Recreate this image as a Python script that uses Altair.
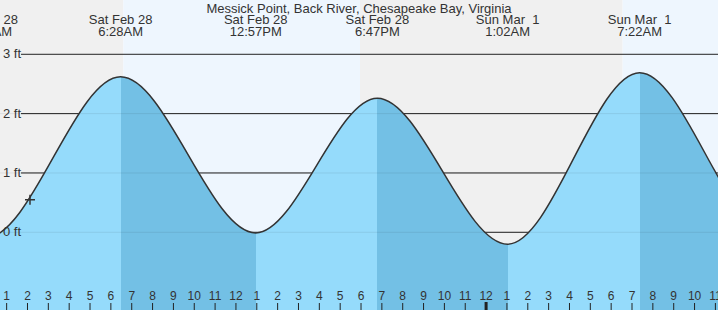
import altair as alt
import pandas as pd

TITLE = "Messick Point, Back River, Chesapeake Bay, Virginia"

# Tide extremes: hours after midnight of Sat Feb 28, height in feet
tide_hours = [-6.2, 0.017, 6.467, 12.95, 18.783, 25.033, 31.367, 37.6, 43.9]
tide_feet = [2.30, -0.09, 2.62, -0.01, 2.26, -0.20, 2.69, 0.00, 2.25]
tide_dates = ["Fri Feb 27", "Sat Feb 28", "Sat Feb 28", "Sat Feb 28", "Sat Feb 28",
              "Sun Mar\u00a0 1", "Sun Mar\u00a0 1", "Sun Mar\u00a0 1", "Sun Mar\u00a0 1"]
tide_times = ["6:12PM", "12:01AM", "6:28AM", "12:57PM", "6:47PM",
              "1:02AM", "7:22AM", "1:36PM", "7:54PM"]

# Daylight / night periods (hours after midnight of Sat Feb 28)
sun_start = [-7.0, 6.596, 17.95, 30.55]
sun_end = [6.596, 17.95, 30.55, 44.0]
sun_phase = ["night", "day", "night", "day"]

# Height levels
level_feet = [0, 1, 2, 3]
level_labels = ["0 ft", "1 ft", "2 ft", "3 ft"]

# Hour ticks along the bottom
hour_marks = list(range(1, 36))
hour_labels = ["1", "2", "3", "4", "5", "6", "7", "8", "9", "10", "11", "12",
               "1", "2", "3", "4", "5", "6", "7", "8", "9", "10", "11", "12",
               "1", "2", "3", "4", "5", "6", "7", "8", "9", "10", "11"]
midnight_marks = [24]

# Current time marker
now_hour = [2.12]
now_feet = [0.55]

FONT = "Liberation Sans"
TEXT = "#333333"
NIGHT = "#f0f0f0"
DAY = "#eef6fe"
RISING = "#95dbfb"
FALLING = "#73c0e5"

W, H = 718, 310
Y_MIN, Y_MAX = -1.3096, 3.915
xs = alt.Scale(domain=[0.6812, 35.125], nice=False, zero=False)
ys = alt.Scale(domain=[Y_MIN, Y_MAX], nice=False, zero=False)

tides = pd.DataFrame({"hour": tide_hours, "feet": tide_feet,
                      "date": tide_dates, "time": tide_times})
sun = pd.DataFrame({"start": sun_start, "end": sun_end, "phase": sun_phase})
levels = pd.DataFrame({"feet": level_feet, "label": level_labels})
hours = pd.DataFrame({"hour": hour_marks, "label": hour_labels})
midnights = pd.DataFrame({"hour": midnight_marks})
now = pd.DataFrame({"hour": now_hour, "feet": now_feet})
title_df = pd.DataFrame({"title": [TITLE]})

# gradient: light while rising, dark while falling
t0, tN = tide_hours[0], tide_hours[-1]
stops = []
for i in range(len(tide_hours) - 1):
    c = FALLING if tide_feet[i + 1] < tide_feet[i] else RISING
    a = (tide_hours[i] - t0) / (tN - t0)
    b = (tide_hours[i + 1] - t0) / (tN - t0)
    stops.append(alt.GradientStop(color=c, offset=a))
    stops.append(alt.GradientStop(color=c, offset=b))
water_fill = alt.LinearGradient(gradient="linear", stops=stops, x1=0, x2=1, y1=0, y2=0)

bg = alt.Chart(sun).mark_rect(clip=True).encode(
    x=alt.X("start:Q", scale=xs, axis=None),
    x2="end:Q",
    y=alt.value(0),
    y2=alt.value(H),
    color=alt.Color("phase:N", scale=alt.Scale(domain=["night", "day"], range=[NIGHT, DAY]), legend=None),
)

grid = alt.Chart(levels).mark_rule(color="#222222", strokeWidth=1).encode(
    y=alt.Y("feet:Q", scale=ys, axis=None),
    x=alt.value(21),
    x2=alt.value(W),
)

water = alt.Chart(tides).mark_area(interpolate="monotone", fill=water_fill, clip=True).encode(
    x=alt.X("hour:Q", scale=xs, axis=None),
    y=alt.Y("feet:Q", scale=ys, axis=None),
    y2=alt.datum(Y_MIN),
)

grid_faint = alt.Chart(levels).transform_filter("datum.feet < 3").mark_rule(
    color="#000000", opacity=0.08, strokeWidth=1).encode(
    y=alt.Y("feet:Q", scale=ys, axis=None),
    x=alt.value(0),
    x2=alt.value(W),
)

curve = alt.Chart(tides).mark_line(interpolate="monotone", color="#333333", strokeWidth=1.5, clip=True).encode(
    x=alt.X("hour:Q", scale=xs, axis=None),
    y=alt.Y("feet:Q", scale=ys, axis=None),
)

marker = alt.Chart(now).mark_point(shape="M-1,0L1,0M0,-1L0,1", size=100, color="#333333",
                                   strokeWidth=1.5, filled=False, opacity=1).encode(
    x=alt.X("hour:Q", scale=xs, axis=None),
    y=alt.Y("feet:Q", scale=ys, axis=None),
)

level_text = alt.Chart(levels).mark_text(align="left", baseline="middle", font=FONT,
                                         fontSize=13, color=TEXT).encode(
    y=alt.Y("feet:Q", scale=ys, axis=None),
    x=alt.value(3),
    text="label:N",
)

ticks = alt.Chart(hours).mark_rule(color="#222222", strokeWidth=1).encode(
    x=alt.X("hour:Q", scale=xs, axis=None),
    y=alt.value(303),
    y2=alt.value(H),
)

midnight_ticks = alt.Chart(midnights).mark_rule(color="#222222", strokeWidth=3).encode(
    x=alt.X("hour:Q", scale=xs, axis=None),
    y=alt.value(302),
    y2=alt.value(H),
)

hour_text = alt.Chart(hours).mark_text(align="center", baseline="alphabetic", font=FONT,
                                       fontSize=12, color=TEXT).encode(
    x=alt.X("hour:Q", scale=xs, axis=None),
    y=alt.value(300),
    text="label:N",
)

date_text = alt.Chart(tides).mark_text(align="center", baseline="alphabetic", font=FONT,
                                       fontSize=13, color=TEXT).encode(
    x=alt.X("hour:Q", scale=xs, axis=None),
    y=alt.value(24),
    text="date:N",
)

time_text = alt.Chart(tides).mark_text(align="center", baseline="alphabetic", font=FONT,
                                       fontSize=13, color=TEXT).encode(
    x=alt.X("hour:Q", scale=xs, axis=None),
    y=alt.value(36),
    text="time:N",
)

title_text = alt.Chart(title_df).mark_text(align="center", baseline="alphabetic", font=FONT,
                                           fontSize=13, color=TEXT).encode(
    x=alt.value(W / 2),
    y=alt.value(12.5),
    text="title:N",
)

chart = alt.layer(
    bg, grid, water, grid_faint, curve, marker, level_text,
    ticks, midnight_ticks, hour_text, date_text, time_text, title_text,
).properties(
    width=W, height=H, padding=0, autosize="none",
).configure_view(stroke=None)

chart.save("out.html", embed_options={"renderer": "svg", "actions": False})
